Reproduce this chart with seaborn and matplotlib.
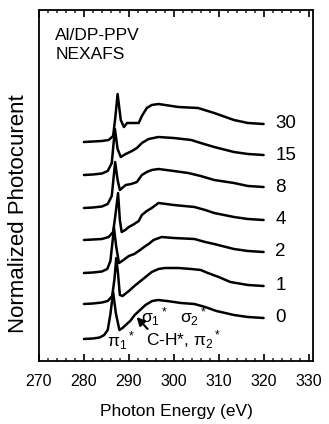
import numpy as np
import pandas as pd
import matplotlib
matplotlib.use("Agg")
import matplotlib.pyplot as plt
import seaborn as sns

# ---- data ----
labels = ["0", "1", "2", "4", "8", "15", "30"]
offsets = [22, 57, 88, 121, 153, 186, 219]

energy_0 = [280, 282, 283.5, 284.5, 285.3, 285.9, 286.5, 287.1, 287.9, 288.6, 289.3, 290.3, 291.3, 292.5, 293.7, 295.2, 296.5, 298.5, 301.6, 304.6, 307, 309.5, 313.4, 316.5, 320]
signal_0 = [0, 0.5, 1.5, 4, 9, 25, 47, 26, 9, 11, 14, 18, 24, 29, 34, 38, 39, 38, 36, 35, 32, 28, 24, 22, 21]

energy_1 = [280, 282, 284, 285.3, 286.3, 286.8, 287.2, 287.6, 288.0, 288.6, 290.0, 291.5, 292.9, 294, 295.1, 296.6, 298, 301, 303.9, 306, 307.6, 310, 312.6, 316.5, 320]
signal_1 = [0, 0.5, 1.5, 3, 8, 25, 46, 30, 9, 8, 13, 19, 24, 28, 32, 35, 36, 36, 35, 34, 31, 27, 22, 19, 18]

energy_2 = [280, 282, 284, 285.2, 285.9, 286.7, 287.2, 287.8, 288.5, 290.0, 291.2, 292.2, 293.4, 294.4, 295.5, 297.3, 300, 304.6, 307, 309, 313.4, 316.5, 320]
signal_2 = [0, 0.5, 1.5, 4, 12, 45, 26, 10, 12, 17, 19, 22, 26, 29, 33, 36, 35, 34, 31, 29, 24, 22, 21]

energy_4 = [280, 282, 284, 285.5, 286.5, 287.1, 287.6, 288.0, 288.4, 289.2, 290.0, 291.2, 292.2, 292.9, 294.0, 295.1, 296.6, 300, 304.6, 307, 309, 313.4, 316.5, 320]
signal_4 = [0, 0.5, 1, 3, 8, 28, 47, 20, 8, 10, 13, 16, 19, 25, 29, 32, 37, 35, 33, 30, 27, 23, 21, 20]

energy_8 = [280, 282, 284, 285.3, 286.2, 286.95, 287.5, 288.0, 289.3, 290.5, 291.8, 292.9, 294.0, 295.1, 296.6, 300, 303.2, 306, 309, 313.4, 316.5, 320]
signal_8 = [0, 0.5, 1.5, 4, 12, 46, 28, 18, 23, 24, 26, 33, 36, 38, 39, 37, 35, 32, 28, 25, 22, 21]

energy_15 = [280, 282, 284, 285.3, 286.2, 286.9, 287.5, 288.2, 289.3, 290.7, 291.8, 292.9, 294.4, 296.6, 300, 303.9, 306, 309, 313.4, 316.5, 320]
signal_15 = [0, 0.5, 1.5, 4, 12, 46, 26, 18, 21, 24, 27, 32, 36, 38, 37, 35, 32, 28, 23, 21, 20]

energy_30 = [280, 282, 284, 285.5, 286.5, 287.0, 287.5, 288.2, 288.9, 289.6, 291.1, 292.2, 292.9, 294.0, 295.1, 296.6, 301, 305.4, 309, 313.4, 316.5, 320]
signal_30 = [0, 0.5, 1, 2, 6, 25, 48, 22, 15, 19, 19, 19, 26, 34, 37, 38, 35, 34, 29, 22, 19, 18]

energies = [energy_0, energy_1, energy_2, energy_4, energy_8, energy_15, energy_30]
signals = [signal_0, signal_1, signal_2, signal_4, signal_8, signal_15, signal_30]

xticks = [270, 280, 290, 300, 310, 320, 330]

# ---- figure ----
sns.set_style("white")
plt.rcParams["font.family"] = ["Liberation Sans", "DejaVu Sans"]
plt.rcParams["mathtext.fontset"] = "custom"
plt.rcParams["mathtext.rm"] = "Liberation Sans"
plt.rcParams["mathtext.it"] = "Liberation Sans"
plt.rcParams["mathtext.default"] = "regular"
plt.rcParams["text.color"] = "black"
plt.rcParams["axes.labelcolor"] = "black"

W, H = 329, 424
fig = plt.figure(figsize=(W / 100, H / 100), dpi=100)
ax = fig.add_axes([39 / W, 63 / H, 274 / W, 351 / H])

frames = []
for lab, off, e, s in zip(labels, offsets, energies, signals):
    frames.append(pd.DataFrame({"energy": e, "signal": np.array(s, float) + off, "dose": lab}))
df = pd.concat(frames, ignore_index=True)

sns.lineplot(data=df, x="energy", y="signal", units="dose", estimator=None,
             color="black", linewidth=1.8, sort=False, ax=ax, legend=False)

for lab, off, e, s in zip(labels, offsets, energies, signals):
    ax.text(e[-1] + 2.6, s[-1] + off, lab, ha="left", va="center", fontsize=13.5)

ax.set_xlim(270, 331)
ax.set_ylim(0, 351)
ax.set_xticks(xticks)
ax.set_xticks(np.arange(270, 331, 2), minor=True)
ax.set_yticks([])
ax.tick_params(axis="x", which="major", direction="in", length=5, width=1.2,
               bottom=True, top=True, labelsize=11.5, pad=9, colors="black")
ax.tick_params(axis="x", which="minor", direction="in", length=2.5, width=1.1,
               bottom=True, top=True)
for sp in ax.spines.values():
    sp.set_linewidth(1.3)
    sp.set_color("black")

ax.set_xlabel("Photon Energy (eV)", fontsize=12.5)
ax.xaxis.set_label_coords(0.5, (361 - 411.5) / 351)
ax.xaxis.label.set_va("center")
ax.set_ylabel("Normalized Photocurent", fontsize=16)
ax.yaxis.set_label_coords((19 - 39) / 274, (361 - 214) / 351)
ax.yaxis.label.set_va("center")

ax.text(273.6, 321, "Al/DP-PPV", fontsize=12.5, ha="left", va="baseline")
ax.text(273.6, 302, "NEXAFS", fontsize=12.5, ha="left", va="baseline")

ax.text(285.2, 14, r"$\pi_1{}^*$", fontsize=12.5, ha="left", va="baseline")
ax.text(292.8, 38, r"$\sigma_1{}^*$", fontsize=12.5, ha="left", va="baseline")
ax.text(301.4, 38, r"$\sigma_2{}^*$", fontsize=12.5, ha="left", va="baseline")
ax.text(293.8, 15, r"C-H*, $\pi_2{}^*$", fontsize=12.5, ha="left", va="baseline")
ax.annotate("", xy=(291.3, 46), xytext=(294.6, 30),
            arrowprops=dict(arrowstyle="-|>", color="black", lw=1.5, mutation_scale=12))

fig.savefig("out.png", dpi=100)
